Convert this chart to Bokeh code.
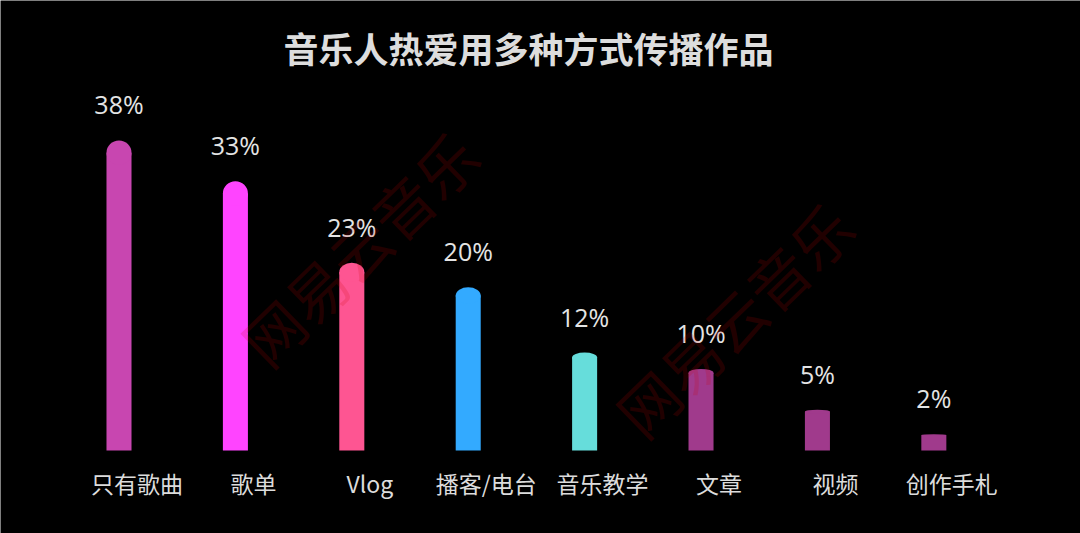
from bokeh.plotting import figure
from bokeh.models import Range1d, Label, ColumnDataSource
from bokeh.core.properties import value
from bokeh.embed import file_html
from bokeh.resources import INLINE

# ---- data ----
categories = ["只有歌曲", "歌单", "Vlog", "播客/电台", "音乐教学", "文章", "视频", "创作手札"]
shares = [38, 33, 23, 20, 12, 10, 5, 2]
share_labels = ["38%", "33%", "23%", "20%", "12%", "10%", "5%", "2%"]
bar_colors = ["#C846B0", "#FF44FF", "#FE5592", "#33AAFF", "#66DDDB",
              "#A03A8C", "#A03A8C", "#A03A8C"]

title_text = "音乐人热爱用多种方式传播作品"
watermark_text = "网易云音乐"

# ---- derived columns ----
xs = list(range(len(categories)))
caps = [min(0.05 * s, 1.5) for s in shares]          # height of the rounded cap
body_tops = [s - c for s, c in zip(shares, caps)]

src = ColumnDataSource(dict(
    x=xs, share=shares, label=share_labels, cat=categories,
    color=bar_colors, cap=caps, cap2=[2 * c for c in caps], body=body_tops,
    zero=[0] * len(xs),
))

p = figure(
    width=1080, height=533,
    x_range=Range1d(-1.018, 8.26), y_range=Range1d(-10.17, 55.15),
    output_backend="svg", toolbar_location=None,
    x_axis_location=None, y_axis_location=None,
    background_fill_color="black", border_fill_color="black",
    outline_line_color=None, min_border=0,
)
p.grid.visible = False

BAR_W = 0.215

# bar bodies and rounded tops
p.vbar(x="x", top="body", bottom=0, width=BAR_W, source=src,
       fill_color="color", line_color=None)
p.ellipse(x="x", y="body", width=BAR_W, height="cap2", source=src,
          fill_color="color", line_color=None)

# value labels above bars
p.text(x="x", y="share", text="label", source=src,
       text_font=value("Open Sans"), text_font_size="25px",
       text_color="#E4E4E4", text_align="center", text_baseline="middle",
       y_offset=-36)

# category labels under bars
p.text(x="x", y="zero", text="cat", source=src,
       text_font=value("Noto Sans CJK SC"), text_font_size="23px",
       text_color="#DCDCDC", text_align="center", text_baseline="middle",
       x_offset=18, y_offset=32)

# watermark
for wx, wy in [(358, 286), (733, 215)]:
    p.add_layout(Label(
        x=wx, y=wy, x_units="screen", y_units="screen", text=watermark_text,
        angle=0.77, text_font="Noto Sans CJK SC", text_font_size="60px",
        text_color="#D00000", text_alpha=0.16,
        text_align="center", text_baseline="middle",
    ))

# title
p.add_layout(Label(
    x=528, y=486, x_units="screen", y_units="screen", text=title_text,
    text_font="Noto Sans CJK SC", text_font_size="35px", text_font_style="bold",
    text_color="#DDDDDD", text_align="center", text_baseline="middle",
))

open("out.html", "w").write(file_html(p, INLINE))
